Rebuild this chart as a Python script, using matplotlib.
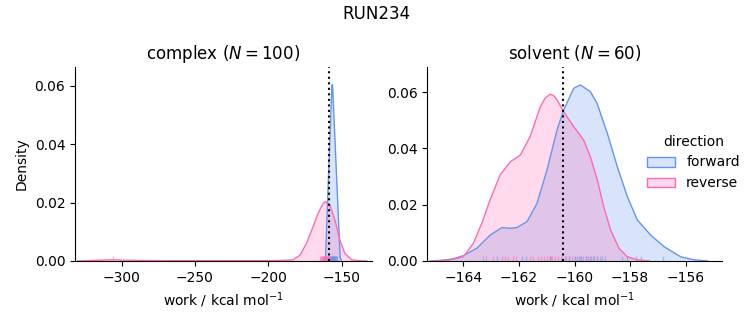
import matplotlib
matplotlib.use('Agg')
import matplotlib.pyplot as plt
from matplotlib.colors import to_rgba
from matplotlib.patches import Patch

# ========== data ==========
FWD_COLOR = 'cornflowerblue'
REV_COLOR = 'hotpink'

# complex leg: density curves (work, density)
cplx_fwd_x = [-162.0, -161.0, -156.6, -156.2, -151.0, -150.0]
cplx_fwd_y = [0.0, 0.0012, 0.0604, 0.0604, 0.0012, 0.0]
cplx_rev_x = [-330, -320, -312, -306, -300, -290, -270, -230, -200, -190, -183,
              -178.4, -173.9, -169.4, -166.0, -162.5, -160.9, -158.0, -154.6,
              -151.2, -147.8, -143.2, -138.7, -133]
cplx_rev_y = [0.0, 0.0002, 0.0003, 0.0004, 0.0003, 0.0002, 0.0001, 0.0001, 0.0001,
              0.0002, 0.0004, 0.0020, 0.0061, 0.0118, 0.0164, 0.0198, 0.0203,
              0.0192, 0.0141, 0.0072, 0.0026, 0.0004, 0.0001, 0.0]
cplx_fwd_rug = [-157.9, -157.6, -157.3, -157.0, -156.8, -156.6, -156.4, -156.2,
                -156.0, -155.8, -155.6, -155.4, -155.2, -155.0, -154.7, -154.4,
                -154.1, -153.8, -153.4]
cplx_rev_rug = [-305.9, -164.6, -164.2, -163.8, -163.4, -163.0, -162.7, -162.4,
                -162.1, -161.8, -161.5, -161.2, -160.9, -160.6, -160.3, -160.0,
                -159.6, -159.2, -158.8, -158.4, -157.8]
cplx_dg = -158.7

# solvent leg
solv_fwd_x = [-165.2, -164.84, -164.4, -164.0, -163.52, -163.04, -162.61, -162.34,
              -162.07, -161.71, -161.35, -160.99, -160.63, -160.39, -160.03,
              -159.79, -159.43, -159.19, -158.82, -158.46, -158.10, -157.74,
              -157.26, -156.78, -156.18, -155.7, -155.2]
solv_fwd_y = [0.0, 0.0002, 0.0007, 0.0019, 0.0045, 0.0092, 0.0119, 0.0116,
              0.0119, 0.0140, 0.0205, 0.0324, 0.0466, 0.0537, 0.0614,
              0.0626, 0.0602, 0.0561, 0.0454, 0.0335, 0.0229, 0.0146,
              0.0092, 0.0051, 0.0015, 0.0004, 0.0]
solv_rev_x = [-165.0, -164.5, -164.0, -163.64, -163.34, -163.04, -162.68, -162.31,
              -161.95, -161.6, -161.23, -161.05, -160.87, -160.75, -160.63,
              -160.39, -160.27, -160.03, -159.67, -159.43, -159.18, -158.95,
              -158.70, -158.4, -158.1, -157.74, -157.3]
solv_rev_y = [0.0, 0.0003, 0.0015, 0.0063, 0.0134, 0.0217, 0.0306, 0.0353,
              0.0377, 0.0442, 0.0549, 0.0580, 0.0593, 0.0588, 0.0573,
              0.0531, 0.0513, 0.0478, 0.0430, 0.0371, 0.0288, 0.0193,
              0.0110, 0.0045, 0.0015, 0.0004, 0.0]
solv_fwd_rug = [-163.3, -162.8, -161.9, -161.75, -160.9, -160.35, -160.2, -160.1,
                -160.0, -159.9, -159.85, -159.75, -159.7, -159.6, -159.5, -159.45,
                -159.35, -159.3, -159.2, -159.1, -159.0, -158.9, -158.3, -158.1,
                -157.8, -157.6, -156.8]
solv_rev_rug = [-163.2, -162.95, -162.6, -162.5, -162.4, -162.2, -162.1, -161.6,
                -161.5, -161.3, -161.2, -161.1, -161.0, -160.9, -160.85, -160.8,
                -160.7, -160.6, -160.5, -160.3, -160.2, -160.0, -159.8, -159.6,
                -159.4, -159.2]
solv_dg = -160.4

panels = [
    ('complex ($N = 100$)', cplx_fwd_x, cplx_fwd_y, cplx_rev_x, cplx_rev_y,
     cplx_fwd_rug, cplx_rev_rug, cplx_dg, (-331.8, -129.5), 0.0665,
     [-300, -250, -200, -150]),
    ('solvent ($N = 60$)', solv_fwd_x, solv_fwd_y, solv_rev_x, solv_rev_y,
     solv_fwd_rug, solv_rev_rug, solv_dg, (-165.3, -154.7), 0.069,
     [-164, -162, -160, -158, -156]),
]

fig = plt.figure(figsize=(7.53, 3.25), dpi=100)
ax_l = fig.add_axes([0.0996, 0.197, 0.394, 0.597])
ax_r = fig.add_axes([0.5675, 0.197, 0.391, 0.597])

for ax, (title, fx, fy, rx, ry, frug, rrug, dg, xlim, ytop, xticks) in zip([ax_l, ax_r], panels):
    for xs, ys, rug, c in [(fx, fy, frug, FWD_COLOR), (rx, ry, rrug, REV_COLOR)]:
        ax.fill_between(xs, ys, 0, color=c, alpha=0.25, linewidth=0)
        ax.plot(xs, ys, color=c, linewidth=1)
        ax.vlines(rug, 0, 0.025, color=c, alpha=0.5, linewidth=1,
                  transform=ax.get_xaxis_transform())
    ax.axvline(dg, color='black', linestyle=':', linewidth=1.5)
    ax.set_xlim(*xlim)
    ax.set_ylim(0, ytop)
    ax.set_xticks(xticks)
    ax.set_yticks([0.0, 0.02, 0.04, 0.06])
    ax.set_yticklabels(['0.00', '0.02', '0.04', '0.06'])
    ax.set_title(title, fontsize=12)
    ax.set_xlabel('work / kcal mol$^{-1}$')
    ax.spines['top'].set_visible(False)
    ax.spines['right'].set_visible(False)

ax_l.set_ylabel('Density')

fig.suptitle('RUN234', fontsize=12, y=0.985)

handles = [Patch(facecolor=to_rgba(FWD_COLOR, 0.25), edgecolor=FWD_COLOR, label='forward'),
           Patch(facecolor=to_rgba(REV_COLOR, 0.25), edgecolor=REV_COLOR, label='reverse')]
fig.legend(handles=handles, title='direction', loc='center left',
           bbox_to_anchor=(0.843, 0.5), frameon=False, fontsize=10, title_fontsize=10)

plt.savefig('out.png', dpi=100)
plt.close()
